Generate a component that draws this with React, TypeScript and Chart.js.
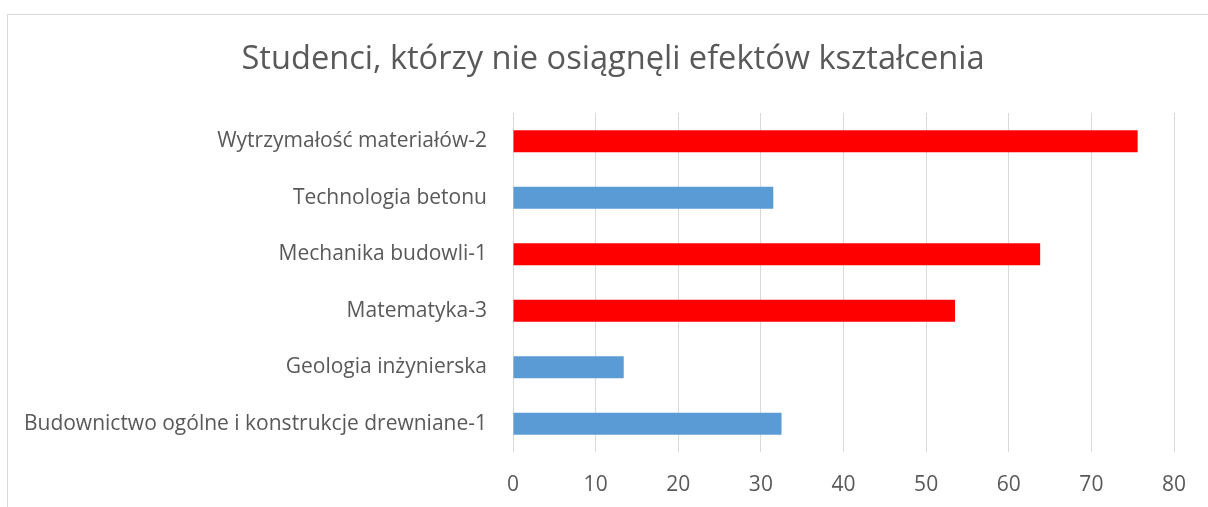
import React, { useEffect, useRef } from "react";
import { Chart, registerables } from "chart.js";

Chart.register(...registerables);

const categories: string[] = [
  "Wytrzymałość materiałów-2",
  "Technologia betonu",
  "Mechanika budowli-1",
  "Matematyka-3",
  "Geologia inżynierska",
  "Budownictwo ogólne i konstrukcje drewniane-1",
];
const values: number[] = [75.6, 31.5, 63.8, 53.5, 13.4, 32.5];
const barColors: string[] = ["#FF0000", "#5B9BD5", "#FF0000", "#FF0000", "#5B9BD5", "#5B9BD5"];
const titleText = "Studenci, którzy nie osiągnęli efektów kształcenia";
const xMin = 0;
const xMax = 80;
const xStep = 10;

const FONT = "'Open Sans', sans-serif";
const TEXT = "#595959";
const GRID = "#D9D9D9";

export default function App() {
  const ref = useRef<HTMLCanvasElement | null>(null);

  useEffect(() => {
    document.body.style.margin = "0";
    document.body.style.overflow = "hidden";
    if (!ref.current) return;
    const chart = new Chart(ref.current, {
      type: "bar",
      data: {
        labels: categories,
        datasets: [
          {
            data: values,
            backgroundColor: barColors,
            borderWidth: 0,
            categoryPercentage: 0.8,
            barPercentage: 0.49,
          },
        ],
      },
      options: {
        indexAxis: "y",
        animation: false,
        responsive: false,
        maintainAspectRatio: false,
        layout: { padding: { left: 52, right: 34, top: 0, bottom: 0 } },
        plugins: {
          legend: { display: false },
          tooltip: { enabled: false },
          title: {
            display: true,
            text: titleText,
            color: TEXT,
            font: { family: FONT, size: 32.6, weight: "normal", lineHeight: 1.2 },
            padding: { top: 40, bottom: 33.9 },
          },
        },
        scales: {
          x: {
            min: xMin,
            max: xMax,
            ticks: {
              stepSize: xStep,
              color: TEXT,
              font: { family: FONT, size: 21 },
              padding: 20,
            },
            grid: { color: GRID, lineWidth: 1, drawTicks: false },
            border: { display: false },
            afterFit: (s: any) => {
              s.height = 55;
            },
          },
          y: {
            ticks: {
              color: TEXT,
              font: { family: FONT, size: 21 },
              padding: 26,
            },
            grid: { display: false, drawTicks: false },
            border: { display: false },
            afterFit: (s: any) => {
              s.width = 461;
              // let long category labels extend left of the axis box
              s._computeLabelArea = () => undefined;
            },
          },
        },
      },
    });
    return () => chart.destroy();
  }, []);

  return (
    <div style={{ position: "relative", width: 1208, height: 507, overflow: "hidden", background: "#fff" }}>
      <canvas ref={ref} width={1208} height={507} style={{ display: "block" }} />
      <div
        style={{
          position: "absolute",
          left: 7,
          top: 14,
          width: 2000,
          height: 1000,
          borderLeft: "1px solid #D9D9D9",
          borderTop: "1px solid #D9D9D9",
          pointerEvents: "none",
        }}
      />
    </div>
  );
}
